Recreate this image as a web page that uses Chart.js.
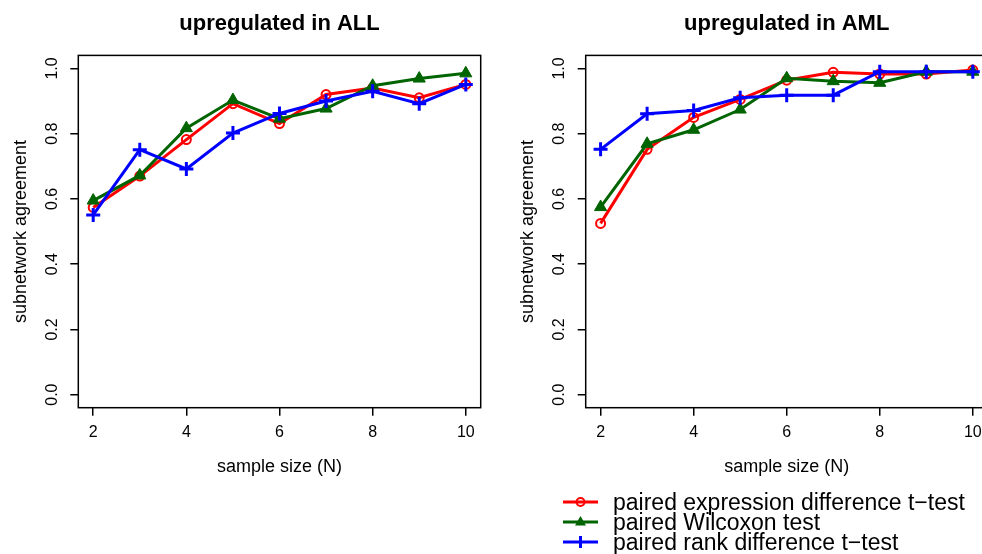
<!DOCTYPE html>
<html>
<head>
<meta charset="utf-8">
<script src="https://cdn.jsdelivr.net/npm/chart.js@4/dist/chart.umd.min.js"></script>
<style>
  html, body { margin: 0; padding: 0; background: #fff; overflow: hidden; }
  body { width: 982px; height: 554px; position: relative; font-family: "Liberation Sans", Arial, sans-serif; }
  canvas { position: absolute; top: 0; }
  #chartALL { left: 0; }
  #chartAML { left: 491px; }
  #legend { position: absolute; left: 563px; top: 492px; font-size: 23px; color: #000; }
  #legend .row { height: 20px; line-height: 20px; white-space: nowrap; display: flex; align-items: center; }
  #legend svg { width: 35px; height: 20px; margin-right: 15px; flex: none; }
</style>
</head>
<body>
<canvas id="chartALL" width="491" height="554"></canvas>
<canvas id="chartAML" width="510" height="554"></canvas>
<div id="legend">
  <div class="row"><svg viewBox="0 0 35 20"><line x1="0" y1="10" x2="35" y2="10" stroke="#ff0000" stroke-width="3"/><circle cx="17.5" cy="10" r="4" fill="none" stroke="#ff0000" stroke-width="2"/></svg>paired expression difference t−test</div>
  <div class="row"><svg viewBox="0 0 35 20"><line x1="0" y1="10" x2="35" y2="10" stroke="#006400" stroke-width="3"/><polygon points="17.5,4 23,13.5 12,13.5" fill="#006400"/></svg>paired Wilcoxon test</div>
  <div class="row"><svg viewBox="0 0 35 20"><line x1="0" y1="10" x2="35" y2="10" stroke="#0000ff" stroke-width="3"/><line x1="17.5" y1="4" x2="17.5" y2="16" stroke="#0000ff" stroke-width="3"/></svg>paired rank difference t−test</div>
</div>
<script>
// sample sizes on the x axis
const sampleSizes = [2, 3, 4, 5, 6, 7, 8, 9, 10];

// upregulated in ALL
const allExprT     = [0.574, 0.670, 0.782, 0.892, 0.831, 0.920, 0.940, 0.910, 0.951];
const allWilcoxon  = [0.595, 0.672, 0.817, 0.903, 0.846, 0.877, 0.947, 0.969, 0.985];
const allRankT     = [0.551, 0.751, 0.692, 0.802, 0.862, 0.900, 0.930, 0.892, 0.951];

// upregulated in AML
const amlExprT     = [0.525, 0.752, 0.850, 0.905, 0.964, 0.988, 0.983, 0.983, 0.995];
const amlWilcoxon  = [0.575, 0.769, 0.812, 0.874, 0.970, 0.961, 0.956, 0.990, 0.990];
const amlRankT     = [0.752, 0.861, 0.871, 0.910, 0.918, 0.918, 0.990, 0.990, 0.990];

const xTicks = [2, 4, 6, 8, 10];
const yTicks = [0.0, 0.2, 0.4, 0.6, 0.8, 1.0];

const seriesNames = ['paired expression difference t-test', 'paired Wilcoxon test', 'paired rank difference t-test'];
const FONT = '"Liberation Sans", Arial, sans-serif';

Chart.defaults.font.family = FONT;
Chart.defaults.color = '#000';

// R-style box around the plot region
const boxPlugin = {
    id: 'box',
    afterDraw(chart) {
        const { ctx, chartArea: a } = chart;
        ctx.save();
        ctx.strokeStyle = '#000';
        ctx.lineWidth = 1.5;
        ctx.strokeRect(a.left, a.top, a.right - a.left, a.bottom - a.top);
        ctx.restore();
    }
};

function toPoints(vals) {
    return sampleSizes.map((n, i) => ({ x: n, y: vals[i] }));
}

function makeChart(id, title, expr, wilc, rank, dims) {
    const ctx = document.getElementById(id).getContext('2d');
    return new Chart(ctx, {
        type: 'line',
        data: {
            datasets: [
                {
                    label: seriesNames[0],
                    data: toPoints(expr),
                    borderColor: '#ff0000',
                    borderWidth: 3,
                    pointStyle: 'circle',
                    pointRadius: 4.5,
                    pointBorderWidth: 2,
                    pointBorderColor: '#ff0000',
                    pointBackgroundColor: 'rgba(0,0,0,0)',
                    order: 2
                },
                {
                    label: seriesNames[1],
                    data: toPoints(wilc),
                    borderColor: '#006400',
                    borderWidth: 3,
                    pointStyle: 'triangle',
                    pointRadius: 7,
                    pointBorderWidth: 1,
                    pointBorderColor: '#006400',
                    pointBackgroundColor: '#006400',
                    order: 1
                },
                {
                    label: seriesNames[2],
                    data: toPoints(rank),
                    borderColor: '#0000ff',
                    borderWidth: 3,
                    pointStyle: 'cross',
                    pointRadius: 7,
                    pointBorderWidth: 3,
                    pointBorderColor: '#0000ff',
                    pointBackgroundColor: '#0000ff',
                    order: 0
                }
            ]
        },
        options: {
            responsive: false,
            animation: false,
            devicePixelRatio: 1,
            layout: { padding: { left: 0, right: dims.padRight, top: 0, bottom: 0 } },
            elements: { line: { tension: 0 } },
            plugins: {
                legend: { display: false },
                tooltip: { enabled: false },
                title: {
                    display: true,
                    text: title,
                    fullSize: false,
                    color: '#000',
                    font: { size: 22, weight: 'bold' },
                    padding: { top: 11, bottom: 18 }
                }
            },
            scales: {
                x: {
                    type: 'linear',
                    min: 1.68,
                    max: 10.32,
                    afterBuildTicks: s => { s.ticks = xTicks.map(v => ({ value: v })); },
                    afterFit: s => { s.height = 146.3; },
                    border: { display: false },
                    grid: { drawOnChartArea: false, drawTicks: true, tickLength: 8, color: '#000', lineWidth: 1.5 },
                    ticks: { font: { size: 16 }, color: '#000', padding: 7, callback: v => String(v) },
                    title: {
                        display: true,
                        text: 'sample size (N)',
                        color: '#000',
                        font: { size: 18 },
                        padding: { top: 0, bottom: 75.7 }
                    }
                },
                y: {
                    type: 'linear',
                    min: -0.04,
                    max: 1.04,
                    afterBuildTicks: s => { s.ticks = yTicks.map(v => ({ value: v })); },
                    afterFit: s => { s.width = dims.yWidth; },
                    border: { display: false },
                    grid: { drawOnChartArea: false, drawTicks: true, tickLength: 8, color: '#000', lineWidth: 1.5 },
                    ticks: {
                        font: { size: 16 },
                        color: '#000',
                        minRotation: 90,
                        maxRotation: 90,
                        crossAlign: 'center',
                        padding: 7,
                        callback: v => v.toFixed(1)
                    },
                    title: {
                        display: true,
                        text: 'subnetwork agreement',
                        color: '#000',
                        font: { size: 18 },
                        padding: { top: dims.yTitlePad, bottom: 0 }
                    }
                }
            }
        },
        plugins: [boxPlugin]
    });
}

makeChart('chartALL', 'upregulated in ALL', allExprT, allWilcoxon, allRankT,
    { yWidth: 78.3, yTitlePad: 10, padRight: 10.3 });
makeChart('chartAML', 'upregulated in AML', amlExprT, amlWilcoxon, amlRankT,
    { yWidth: 94.7, yTitlePad: 26.2, padRight: 13.3 });
</script>
</body>
</html>
